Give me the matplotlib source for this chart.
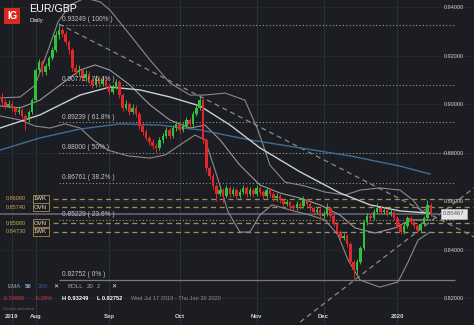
import matplotlib
matplotlib.use("Agg")
import matplotlib.pyplot as plt
from matplotlib.patches import Rectangle

plt.rcParams['font.family'] = ['Liberation Sans', 'DejaVu Sans']

# daily candles, one per trading day (open = previous close)
first_open = 0.9029
closes = [
    0.9008, 0.8992, 0.9000, 0.8984, 0.8967, 0.8975, 0.8951, 0.8934, 0.8967, 0.9017,
    0.9140, 0.9173, 0.9132, 0.9157, 0.9190, 0.9223, 0.9285, 0.9305, 0.9289, 0.9256,
    0.9223, 0.9149, 0.9132, 0.9140, 0.9107, 0.9124, 0.9099, 0.9078, 0.9107, 0.9083,
    0.9099, 0.9074, 0.9050, 0.9066, 0.9091, 0.9037, 0.8984, 0.9000, 0.8967, 0.8984,
    0.8959, 0.8909, 0.8885, 0.8860, 0.8843, 0.8827, 0.8819, 0.8852, 0.8868, 0.8893,
    0.8868, 0.8901, 0.8918, 0.8893, 0.8909, 0.8934, 0.8918, 0.8959, 0.8984, 0.9017,
    0.8852, 0.8736, 0.8703, 0.8662, 0.8629, 0.8645, 0.8621, 0.8654, 0.8629, 0.8645,
    0.8621, 0.8637, 0.8654, 0.8629, 0.8645, 0.8629, 0.8654, 0.8637, 0.8621, 0.8645,
    0.8629, 0.8612, 0.8621, 0.8604, 0.8588, 0.8596, 0.8579, 0.8571, 0.8588, 0.8579,
    0.8604, 0.8588, 0.8571, 0.8555, 0.8563, 0.8538, 0.8546, 0.8571, 0.8538, 0.8505,
    0.8472, 0.8447, 0.8456, 0.8423, 0.8349, 0.8316, 0.8349, 0.8406, 0.8513, 0.8538,
    0.8530, 0.8555, 0.8571, 0.8555, 0.8563, 0.8546, 0.8555, 0.8530, 0.8497, 0.8472,
    0.8497, 0.8530, 0.8513, 0.8497, 0.8480, 0.8505, 0.8530, 0.8583, 0.8547,
]
highs = [
    0.9045, 0.9020, 0.9015, 0.9012, 0.8993, 0.8990, 0.8982, 0.8960, 0.8975, 0.9025,
    0.9150, 0.9185, 0.9180, 0.9170, 0.9200, 0.9235, 0.9300, 0.9325, 0.9318, 0.9300,
    0.9265, 0.9230, 0.9165, 0.9160, 0.9150, 0.9140, 0.9135, 0.9110, 0.9120, 0.9115,
    0.9115, 0.9110, 0.9085, 0.9080, 0.9105, 0.9100, 0.9045, 0.9015, 0.9010, 0.9000,
    0.8995, 0.8965, 0.8920, 0.8895, 0.8870, 0.8855, 0.8840, 0.8865, 0.8880, 0.8905,
    0.8900, 0.8912, 0.8930, 0.8925, 0.8920, 0.8945, 0.8942, 0.8970, 0.8995, 0.9037,
    0.9025, 0.8860, 0.8745, 0.8715, 0.8672, 0.8660, 0.8655, 0.8665, 0.8662, 0.8658,
    0.8652, 0.8650, 0.8668, 0.8662, 0.8656, 0.8652, 0.8665, 0.8660, 0.8645, 0.8655,
    0.8652, 0.8638, 0.8632, 0.8628, 0.8612, 0.8608, 0.8602, 0.8588, 0.8598, 0.8595,
    0.8620, 0.8612, 0.8595, 0.8578, 0.8575, 0.8570, 0.8558, 0.8590, 0.8578, 0.8545,
    0.8512, 0.8480, 0.8470, 0.8462, 0.8430, 0.8355, 0.8360, 0.8415, 0.8522, 0.8550,
    0.8552, 0.8568, 0.8590, 0.8580, 0.8575, 0.8572, 0.8565, 0.8562, 0.8538, 0.8505,
    0.8508, 0.8540, 0.8538, 0.8520, 0.8505, 0.8515, 0.8540, 0.8605, 0.8590,
]
lows = [
    0.8995, 0.8980, 0.8985, 0.8972, 0.8955, 0.8958, 0.8940, 0.8893, 0.8925, 0.8960,
    0.9010, 0.9130, 0.9115, 0.9120, 0.9145, 0.9180, 0.9215, 0.9270, 0.9275, 0.9245,
    0.9205, 0.9135, 0.9115, 0.9120, 0.9095, 0.9095, 0.9085, 0.9065, 0.9070, 0.9070,
    0.9075, 0.9060, 0.9040, 0.9040, 0.9060, 0.9025, 0.8970, 0.8975, 0.8955, 0.8960,
    0.8945, 0.8895, 0.8872, 0.8850, 0.8832, 0.8815, 0.8800, 0.8810, 0.8840, 0.8860,
    0.8855, 0.8860, 0.8890, 0.8880, 0.8885, 0.8900, 0.8905, 0.8910, 0.8950, 0.8975,
    0.8840, 0.8720, 0.8690, 0.8650, 0.8600, 0.8620, 0.8590, 0.8612, 0.8618, 0.8620,
    0.8610, 0.8612, 0.8628, 0.8618, 0.8620, 0.8615, 0.8620, 0.8625, 0.8610, 0.8612,
    0.8618, 0.8600, 0.8602, 0.8592, 0.8575, 0.8578, 0.8565, 0.8558, 0.8562, 0.8568,
    0.8572, 0.8578, 0.8560, 0.8542, 0.8545, 0.8528, 0.8530, 0.8540, 0.8528, 0.8495,
    0.8460, 0.8435, 0.8440, 0.8410, 0.8335, 0.8275, 0.8300, 0.8340, 0.8400, 0.8500,
    0.8518, 0.8522, 0.8548, 0.8545, 0.8548, 0.8538, 0.8540, 0.8522, 0.8488, 0.8462,
    0.8465, 0.8490, 0.8505, 0.8488, 0.8470, 0.8472, 0.8498, 0.8525, 0.8540,
]

# indicator lines (candle index, price)
ema50_x = [-0.6, 11.3, 23.3, 32.2, 41.2, 50.1, 59.1, 68.1, 77.0, 89.0, 100.9, 109.9, 118.8, 127.8]
ema50_y = [0.8901, 0.8955, 0.9037, 0.9070, 0.9058, 0.9029, 0.8992, 0.8913, 0.8819, 0.8720, 0.8633, 0.8584, 0.8559, 0.8550]
ema200_x = [-0.6, 11.3, 23.3, 35.2, 47.2, 59.1, 74.0, 89.0, 103.9, 118.8, 127.8]
ema200_y = [0.8810, 0.8860, 0.8897, 0.8918, 0.8913, 0.8893, 0.8852, 0.8819, 0.8786, 0.8744, 0.8711]
boll_up_x = [-0.6, 5.4, 9.9, 14.3, 16.7, 20.3, 24.8, 29.3, 32.2, 38.2, 44.2, 50.1, 56.1, 60.6, 66.6,
             72.5, 76.4, 80.0, 84.5, 90.4, 96.4, 102.4, 106.9, 112.8, 118.8, 122.7, 125.4, 127.8]
boll_up_y = [0.9025, 0.9029, 0.9078, 0.9243, 0.9338, 0.9408, 0.9437, 0.9421, 0.9388, 0.9285, 0.9181,
             0.9087, 0.9037, 0.9037, 0.9045, 0.9016, 0.8893, 0.8748, 0.8678, 0.8662, 0.8637, 0.8625,
             0.8645, 0.8654, 0.8645, 0.8604, 0.8555, 0.8579]
boll_mid_x = [-0.6, 5.4, 11.3, 17.3, 23.3, 27.8, 32.2, 38.2, 44.2, 50.1, 56.1, 60.6, 65.1, 71.0,
              77.0, 83.0, 89.0, 94.9, 100.9, 105.4, 111.3, 117.3, 121.8, 127.8]
boll_mid_y = [0.8992, 0.8984, 0.9016, 0.9078, 0.9140, 0.9161, 0.9140, 0.9078, 0.8996, 0.8934, 0.8901,
              0.8913, 0.8852, 0.8748, 0.8666, 0.8633, 0.8612, 0.8584, 0.8542, 0.8489, 0.8468, 0.8489,
              0.8522, 0.8522]
boll_lo_x = [-0.6, 5.4, 9.9, 14.3, 18.8, 23.3, 27.2, 31.6, 37.6, 44.2, 48.7, 53.1, 57.6, 60.6, 63.6,
             67.5, 71.0, 74.0, 77.0, 80.6, 86.0, 91.9, 96.4, 100.3, 103.3, 106.9, 112.8, 118.2, 121.2,
             124.2, 127.8]
boll_lo_y = [0.8951, 0.8934, 0.8909, 0.8901, 0.8918, 0.8901, 0.8852, 0.8810, 0.8786, 0.8777, 0.8790,
             0.8831, 0.8872, 0.8852, 0.8728, 0.8555, 0.8472, 0.8472, 0.8542, 0.8584, 0.8563, 0.8542,
             0.8522, 0.8460, 0.8357, 0.8274, 0.8245, 0.8266, 0.8348, 0.8439, 0.8472]

# dashed trend lines
trend_a_x, trend_a_y = [17, 140.9], [0.9330, 0.8452]
trend_b_x, trend_b_y = [89, 140.9], [0.8101, 0.8654]

month_idx = [3, 10, 32, 53, 76, 96, 118]
month_labels = ['2019', 'Aug', 'Sep', 'Oct', 'Nov', 'Dec', '2020']
price_ticks = [0.94, 0.92, 0.90, 0.88, 0.86, 0.84, 0.82]

fib_prices = [0.93249, 0.90771, 0.89239, 0.88000, 0.86761, 0.85229, 0.82752]
fib_pcts = ['100%', '76.4%', '61.8%', '50%', '38.2%', '23.6%', '0%']

level_prices = [0.86090, 0.85740, 0.85080, 0.84730]
level_tags = ['1WK', 'OVN', 'OVN', '1WK']
last_price = 0.85467

bg = '#1c1d22'
green = '#2fc23c'
red = '#e3262c'

fig = plt.figure(figsize=(4.74, 3.25), dpi=100, facecolor=bg)
ax = fig.add_axes([0, 0, 1, 1], facecolor=bg)
ax.set_xlim(-0.6, 140.9)
ax.set_ylim(0.80887, 0.94289)
for s in ax.spines.values():
    s.set_visible(False)

# axes, grid
ax.set_xticks(month_idx)
ax.set_xticklabels(month_labels, fontweight='bold')
ax.tick_params(axis='x', length=0, pad=-8, labelsize=4.3, labelcolor='#d6d6d6')
ax.yaxis.tick_right()
ax.set_yticks(price_ticks)
ax.set_yticklabels(['%.5f' % p for p in price_ticks])
ax.tick_params(axis='y', length=0, pad=-21.5, labelsize=4, labelcolor='#d0d0d0')
ax.xaxis.grid(True, color='#2d2f36', lw=0.8)
ax.yaxis.grid(True, color='#26282e', lw=0.6)
ax.set_axisbelow(True)

# fibonacci levels
ax.hlines(fib_prices[:-1], 17, 135.2, colors='#9a9a9a', linestyles=(0, (1, 2)), lw=0.8, zorder=1)
ax.hlines(fib_prices[-1], 17, 135.2, colors='#7a7a7a', lw=0.9, zorder=1)
for p, pct in zip(fib_prices, fib_pcts):
    ax.text(17.9, p + 0.0008, '%.5f ( %s )' % (p, pct), fontsize=4.8, color='#c2c2c2',
            va='bottom', zorder=5)

# 1WK / OVN levels
ax.hlines(level_prices, 15.2, 140.9, colors='#a58c52', linestyles=(0, (4, 3)), lw=0.9, zorder=1)
for p, tag in zip(level_prices, level_tags):
    ax.text(1.2, p, '%.5f' % p, fontsize=4, color='#c9a652', va='center', zorder=5)
    ax.text(11.5, p, tag, fontsize=4.3, color='#ece0c4', ha='center', va='center', zorder=6,
            bbox=dict(boxstyle='square,pad=0.25', fc=bg, ec='#a8894a', lw=0.6))

# last price
ax.hlines(last_price, -0.6, 130.5, colors='#5e6066', lw=1.3, zorder=1)
ax.text(134.9, last_price, '%.5f' % last_price, fontsize=4.3, color='#555555', ha='center',
        va='center', zorder=6, bbox=dict(boxstyle='square,pad=0.4', fc='#e4e4e4', ec='#bdbdbd', lw=0.5))

# trend lines
ax.plot(trend_a_x, trend_a_y, color='#8a8a8a', lw=0.9, dashes=(4, 3), zorder=2)
ax.plot(trend_b_x, trend_b_y, color='#8a8a8a', lw=0.9, dashes=(4, 3), zorder=2)

# indicators
ax.plot(boll_up_x, boll_up_y, color='#8a8a8a', lw=0.8, zorder=2)
ax.plot(boll_mid_x, boll_mid_y, color='#9a9a9a', lw=0.8, zorder=2)
ax.plot(boll_lo_x, boll_lo_y, color='#8a8a8a', lw=0.8, zorder=2)
ax.plot(ema200_x, ema200_y, color='#3f6c98', lw=1.0, zorder=2)
ax.plot(ema50_x, ema50_y, color='#c9ced6', lw=1.0, zorder=2)

# candles
opens = [first_open] + closes[:-1]
idx = list(range(len(closes)))
cols = [green if c >= o else red for o, c in zip(opens, closes)]
ax.vlines(idx, lows, highs, colors=cols, lw=0.7, zorder=3)
ax.bar(idx, [c - o for o, c in zip(opens, closes)], bottom=opens, width=0.75, color=cols, zorder=3)

# header
fig.patches.append(Rectangle((4 / 474, 1 - 24 / 325), 16 / 474, 16 / 325, transform=fig.transFigure,
                             facecolor='#d52b1e', zorder=10))
fig.text(12 / 474, 1 - 16 / 325, 'IG', fontsize=7, color='white', fontweight='bold',
         ha='center', va='center', zorder=11)
fig.text(29 / 474, 1 - 9.5 / 325, 'EUR/GBP', fontsize=7.7, color='white', va='center')
fig.text(29 / 474, 1 - 20.5 / 325, 'Daily', fontsize=4.5, color='#e0e0e0', va='center')

# legend rows
row1 = [(7, 'EMA', '#9ea4ad', 'normal'), (25, '50', '#8fb3d9', 'bold'), (38, '200', '#2b5f91', 'normal'),
        (53, '✕', '#e6e6e6', 'normal'), (68, 'BOLL', '#9ea4ad', 'normal'), (87, '20', '#9ea4ad', 'normal'),
        (97, '2', '#9ea4ad', 'normal'), (111, '✕', '#e6e6e6', 'normal')]
for x, t, c, w in row1:
    fig.text(x / 474, 1 - 287 / 325, t, fontsize=4.4, color=c, fontweight=w, va='center')
row2 = [(3, '-0.24886', '#d23b3b', 'normal'), (35, '-5.38%', '#d23b3b', 'normal'),
        (62, 'H 0.93249', 'white', 'bold'), (97, 'L 0.82752', 'white', 'bold'),
        (131, 'Wed Jul 17 2019 - Thu Jan 30 2020', '#8e8e8e', 'normal')]
for x, t, c, w in row2:
    fig.text(x / 474, 1 - 299 / 325, t, fontsize=4.1, color=c, fontweight=w, va='center')
fig.text(3 / 474, 1 - 309 / 325, 'Data is indicative', fontsize=3, color='#6e6e6e', va='center')

fig.savefig('out.png', dpi=100, facecolor=bg)
